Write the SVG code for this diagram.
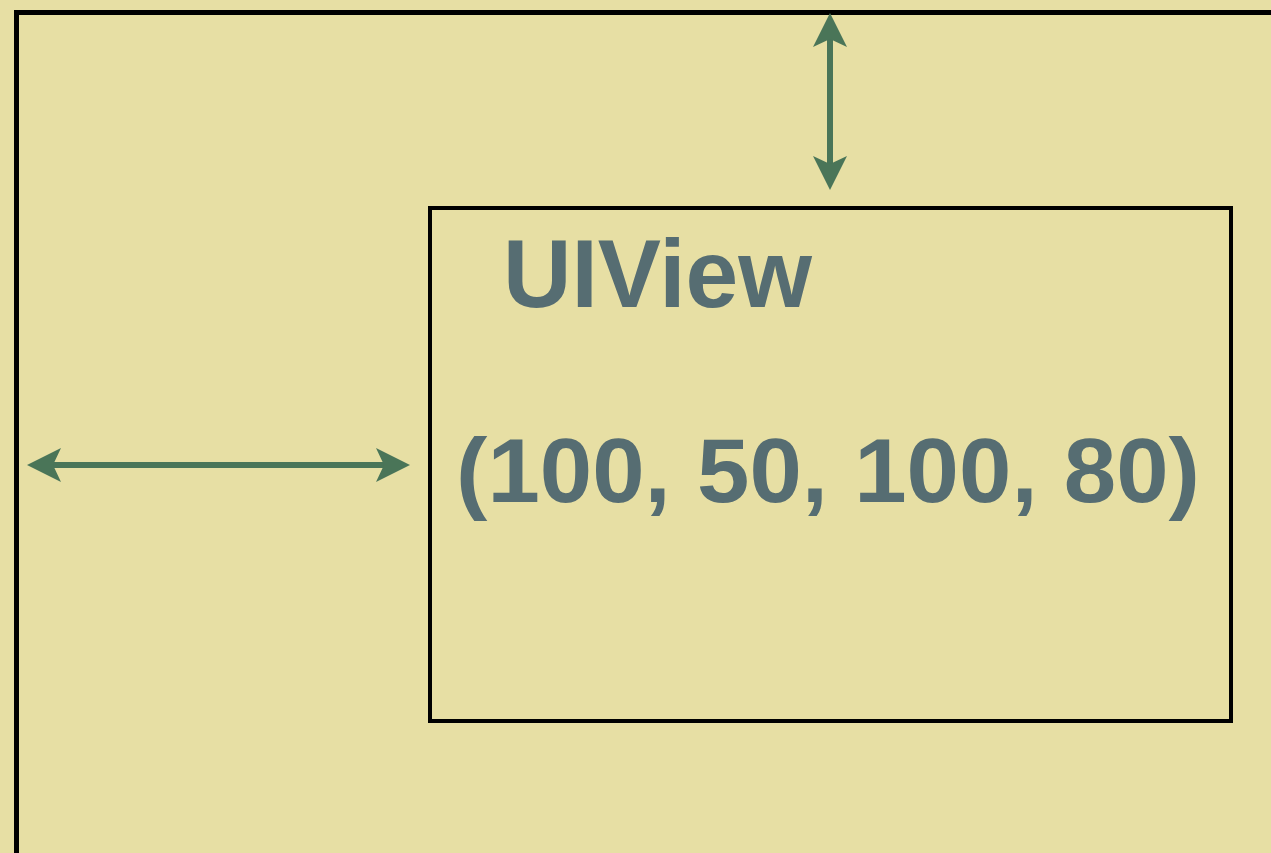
<svg xmlns="http://www.w3.org/2000/svg" width="1271" height="853" viewBox="0 0 1271 853">
  <style>
    .frame { fill: none; stroke: #000; stroke-width: 5; }
    .box { fill: none; stroke: #000; stroke-width: 4; }
    .conn { stroke: #4a7558; stroke-width: 6; fill: none; }
    .label { font-family: "Liberation Sans", Arial, sans-serif; font-weight: bold; fill: #566d72; }
  </style>
  <defs>
    <marker id="head" viewBox="0 0 34 34" refX="8" refY="17" markerWidth="34" markerHeight="34" markerUnits="userSpaceOnUse" orient="auto-start-reverse">
      <path d="M0,0 L34,17 L0,34 L8,17 Z" fill="#4a7558"/>
    </marker>
  </defs>
  <rect x="0" y="0" width="1271" height="853" fill="#e7dfa4"/>
  <g id="superview">
    <rect class="frame" x="16.5" y="12.5" width="1300" height="900"/>
  </g>
  <g id="uiview">
    <rect class="box" x="430" y="208" width="801" height="513"/>
    <text class="label" x="503" y="307" font-size="96" textLength="309" lengthAdjust="spacingAndGlyphs">UIView</text>
    <text class="label" x="456" y="502" font-size="91" textLength="744" lengthAdjust="spacingAndGlyphs">(100, 50, 100, 80)</text>
  </g>
  <g id="connectors">
    <line class="conn" x1="830" y1="39" x2="830" y2="164" marker-start="url(#head)" marker-end="url(#head)"/>
    <line class="conn" x1="53" y1="465" x2="384" y2="465" marker-start="url(#head)" marker-end="url(#head)"/>
  </g>
</svg>
